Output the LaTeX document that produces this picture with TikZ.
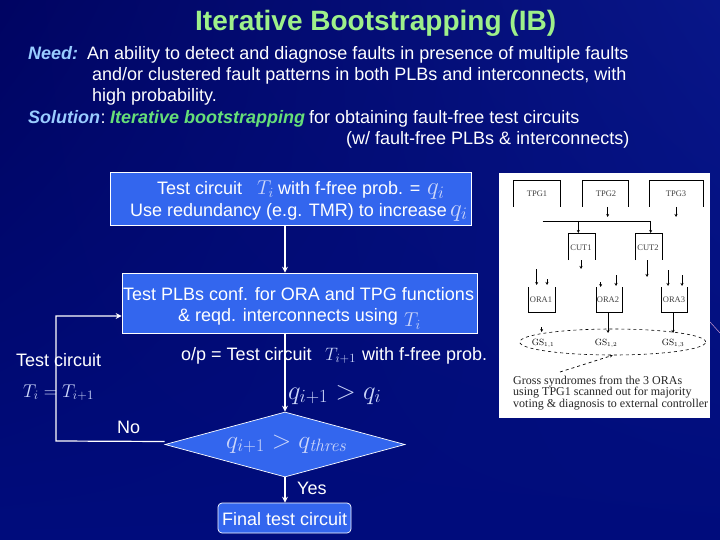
\documentclass[tikz,border=0pt]{standalone}
\usepackage[no-math]{fontspec}
\usepackage{fix-cm}
\setmainfont{Liberation Sans}
\newfontfamily\figfont{Liberation Serif}
\usetikzlibrary{shapes.geometric,arrows.meta,shadings}
\definecolor{slidetop}{RGB}{0,4,98}
\definecolor{slidemid}{RGB}{8,22,136}
\definecolor{slidelow}{RGB}{0,12,124}
\definecolor{boxblue}{RGB}{51,102,238}
\definecolor{titlegreen}{RGB}{158,240,138}
\definecolor{keygreen}{RGB}{102,222,120}
\definecolor{keyblue}{RGB}{153,204,255}
\definecolor{mathpale}{RGB}{205,215,250}
\tikzset{
  txt/.style={anchor=base west, inner sep=0pt, text=white, font=\fontsize{18}{21}\selectfont},
  keytxt/.style={txt, font=\bfseries\itshape\fontsize{18}{21}\selectfont},
  mathtxt/.style={anchor=base west, inner sep=0pt, text=mathpale, font=\fontsize{20}{24}\selectfont},
  probtxt/.style={mathtxt, font=\fontsize{25}{30}\selectfont},
  testbox/.style={draw=white, fill=boxblue, line width=0.7pt},
  figtxt/.style={inner sep=0pt, text=black!75, font=\figfont\fontsize{8.5}{10}\selectfont},
  gstxt/.style={inner sep=0pt, text=black, font=\fontsize{9}{11}\selectfont},
  noteline/.style={anchor=base west, inner sep=0pt, text=black!85, font=\figfont\fontsize{12}{14}\selectfont},
  figline/.style={black, line width=0.7pt},
  figarrow/.style={black, line width=0.7pt, -{Stealth[length=3pt,width=3pt]}},
  flow/.style={white, line width=1.2pt, -{Stealth[length=6pt,width=6pt]}}
}
\begin{document}
\begin{tikzpicture}[x=1pt, y=-1pt, >=stealth]

  % Achtergrond
  \useasboundingbox (0,0) rectangle (720,540);
  \shade[upper left=slidetop, upper right=slidemid, lower left=slidelow, lower right=slidelow]
      (0,0) rectangle (720,540);

  % Titel
  \node[txt, text=titlegreen, font=\bfseries\fontsize{28}{33}\selectfont] (title) at (195,31) {Iterative Bootstrapping (IB)};

  % Tekst bovenaan
  \node[keytxt, text=keyblue] (need) at (28,60) {Need:};
  \node[txt] (needa) at (87,60) {An ability to detect and diagnose faults in presence of multiple faults};
  \node[txt] (needb) at (92,81) {and/or clustered fault patterns in both PLBs and interconnects, with};
  \node[txt] (needc) at (92,102) {high probability.};
  \node[keytxt, text=keyblue] (sol) at (28,124) {Solution};
  \node[txt] (solcolon) at (sol.base east) {:};
  \node[keytxt, text=keygreen] (solkey) at (110,124) {Iterative bootstrapping};
  \node[txt] (sola) at (309,124) {for obtaining fault-free test circuits};
  \node[txt] (solb) at (346,145) {(w/ fault-free PLBs \& interconnects)};

  % Stroomschema
  \node[testbox, minimum width=361pt, minimum height=53pt] (start) at (290.5,198.5) {};
  \node[testbox, minimum width=355pt, minimum height=60pt] (conf) at (299.5,303) {};
  \node[testbox, diamond, inner sep=0pt, minimum width=240pt, minimum height=65pt] (decide) at (285,444.5) {};
  \node[testbox, rounded corners=4pt, minimum width=133pt, minimum height=30pt] (final) at (284.5,518) {};

  % Tekst in de blokken
  \node[txt] (starta) at (157,195) {Test circuit};
  \node[mathtxt] (startb) at (257,195) {$T_i$};
  \node[txt] (startc) at (278,195) {with f-free prob. =};
  \node[probtxt] (startd) at (427,195) {$q_i$};
  \node[txt] (starte) at (130,216) {Use redundancy (e.g. TMR) to increase};
  \node[probtxt] (startf) at (450,216) {$q_i$};
  \node[txt] (confa) at (123,300) {Test PLBs conf. for ORA and TPG functions};
  \node[txt] (confb) at (178,321) {\& reqd. interconnects using};
  \node[mathtxt] (confc) at (404,326) {$T_i$};
  \node[txt] (opa) at (181,360) {o/p = Test circuit};
  \node[mathtxt, font=\fontsize{18}{22}\selectfont] (opb) at (325,360) {$T_{i+1}$};
  \node[txt] (opc) at (362,360) {with f-free prob.};
  \node[txt] (loopa) at (16,366) {Test circuit};
  \node[mathtxt, font=\fontsize{18.5}{22}\selectfont] (loopb) at (23,397) {$T_i = T_{i+1}$};
  \node[mathtxt, font=\fontsize{26.5}{31}\selectfont] (gain) at (288,399) {$q_{i+1} > q_i$};
  \node[mathtxt, font=\fontsize{25.5}{30}\selectfont] (thres) at (226,448) {$q_{i+1} > q_{\mathit{thres}}$};
  \node[txt] (no) at (117,433) {No};
  \node[txt] (yes) at (297,494) {Yes};
  \node[txt] (finaltxt) at (222,525) {Final test circuit};

  % Pijlen
  \draw[flow] (start.south -| decide.north) -- (conf.north -| decide.north);
  \draw[flow] (conf.south -| decide.north) -- (decide.north);
  \draw[flow] (decide.south) -- (final.north -| decide.south);
  \coordinate (nocorner) at (56,441);
  \draw[flow] ([yshift=3pt]decide.west) -- (nocorner) |- ([yshift=-13pt]conf.west);

  % Figuur rechts
  \fill[white] (499,173) rectangle (710,418);
  \draw[line width=0.5pt, color=violet!40] (710,322) -- (720,333);

  % Blokken zonder onderkant
  \foreach \x/\w/\ytop/\ybot in {513/560/180/207, 582/628/180/207, 649/703/180/207, 568/595/233/260, 635/662/233/260}
    \draw[figline] (\x,\ybot) |- (\w,\ytop) -- (\w,\ybot);
  % Blokken zonder bovenkant
  \foreach \x/\w in {528/555, 596/622, 661/687}
    \draw[figline] (\x,287) |- (\w,312) -- (\w,287);

  \coordinate (busa) at (542.7,221);
  \coordinate (busb) at (651,221);
  \draw[figline] (busa) -- (busb);

  % Pijltjes in de figuur
  \foreach \n/\x/\ya/\yb in {a/607.7/207/217, b/676/207/217, c/578.3/221/233, d/650.7/221/233,
      e/581/260/269, f/647/260/277, g/536.7/269/285, h/547/279/285, i/600.7/282/287,
      j/616/275/286, k/668/270/286, l/682/275/286, m/608/312/333, n/673/312/333, o/541.7/327/332}{
    \coordinate (\n top) at (\x,\ya);
    \coordinate (\n bot) at (\x,\yb);
    \draw[figarrow] (\n top) -- (\n bot);
  }

  \node[figtxt] (tpga) at (537,194) {TPG1};
  \node[figtxt] (tpgb) at (606,194) {TPG2};
  \node[figtxt] (tpgc) at (676,194) {TPG3};
  \node[figtxt] (cuta) at (581,248) {CUT1};
  \node[figtxt] (cutb) at (648,248) {CUT2};
  \node[figtxt] (oraa) at (541,300) {ORA1};
  \node[figtxt] (orab) at (608,300) {ORA2};
  \node[figtxt] (orac) at (674,300) {ORA3};

  % Syndromen
  \node[draw=black, dashed, ellipse, line width=0.6pt, inner sep=0pt, minimum width=186pt, minimum height=26pt] (gsring) at (612.7,342) {};
  \node[gstxt] (gsa) at (543,344) {$\mathrm{GS}_{1,1}$};
  \node[gstxt] (gsb) at (606,344) {$\mathrm{GS}_{1,2}$};
  \node[gstxt] (gsc) at (673,344) {$\mathrm{GS}_{1,3}$};
  \coordinate (notetip) at (560,372);
  \draw[figarrow, dashed] (notetip) -- (gsring.south);
  \node[noteline] (notea) at (513,384) {Gross syndromes from the 3 ORAs};
  \node[noteline] (noteb) at (513,395) {using TPG1 scanned out for majority};
  \node[noteline] (notec) at (513,407) {voting \& diagnosis to external controller};

\end{tikzpicture}
\end{document}
